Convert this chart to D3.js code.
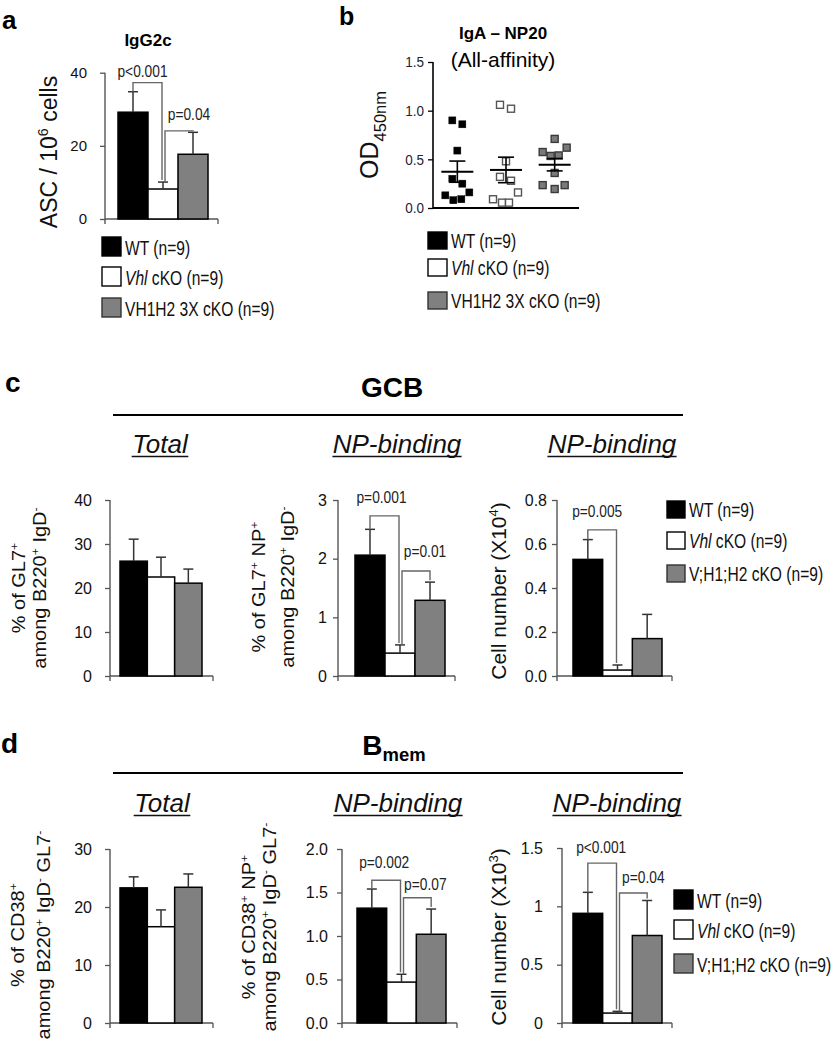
<!DOCTYPE html>
<html><head><meta charset="utf-8">
<script src="https://cdn.jsdelivr.net/npm/d3@7"></script>
<style>html,body{margin:0;padding:0;background:#fff}</style>
</head><body><svg id="fig" width="835" height="1050"></svg>
<script>
// ================= DATA =================
const groupsAB = ["WT", "Vhl cKO", "VH1H2 3X cKO"];
const groupsCD = ["WT", "Vhl cKO", "V;H1;H2 cKO"];
const groupN = [9, 9, 9];

// a: IgG2c ASC / 10^6 cells
const ascMean = [29.2, 8.2, 17.7];
const ascSem  = [5.6, 1.9, 6.0];
const ascTicks = [0, 20, 40];
const ascPairs = [[0, 1], [1, 2]];
const ascPLabels = ["p<0.001", "p=0.04"];
const ascPLevels = [37.3, 24.1];

// b: IgA - NP20 OD450nm, individual mice
const igaWT  = [0.90, 0.86, 0.59, 0.30, 0.25, 0.13, 0.08, 0.09, 0.16];
const igaVhl = [1.06, 1.02, 0.48, 0.32, 0.28, 0.16, 0.09, 0.055, 0.055];
const igaTKO = [0.71, 0.62, 0.575, 0.535, 0.54, 0.36, 0.235, 0.195, 0.235];
const igaTicks = [0, 0.5, 1.0, 1.5];

// c: GCB
const gcbTotalMean = [26.1, 22.5, 21.1];
const gcbTotalSem  = [5.0, 4.5, 3.2];
const gcbTotalTicks = [0, 10, 20, 30, 40];

const gcbNpPctMean = [2.06, 0.39, 1.29];
const gcbNpPctSem  = [0.44, 0.14, 0.31];
const gcbNpPctTicks = [0, 1, 2, 3];
const gcbNpPctPairs = [[0, 1], [1, 2]];
const gcbNpPctPLabels = ["p=0.001", "p=0.01"];
const gcbNpPctPLevels = [2.73, 1.79];

const gcbNpCellMean = [0.53, 0.027, 0.17];
const gcbNpCellSem  = [0.09, 0.023, 0.11];
const gcbNpCellTicks = [0, 0.2, 0.4, 0.6, 0.8];
const gcbNpCellPairs = [[0, 1]];
const gcbNpCellPLabels = ["p=0.005"];
const gcbNpCellPLevels = [0.664];

// d: Bmem
const bmTotalMean = [23.3, 16.6, 23.4];
const bmTotalSem  = [1.9, 2.9, 2.3];
const bmTotalTicks = [0, 10, 20, 30];

const bmNpPctMean = [1.32, 0.47, 1.02];
const bmNpPctSem  = [0.22, 0.09, 0.29];
const bmNpPctTicks = [0, 0.5, 1.0, 1.5, 2.0];
const bmNpPctPairs = [[0, 1], [1, 2]];
const bmNpPctPLabels = ["p=0.002", "p=0.07"];
const bmNpPctPLevels = [1.64, 1.44];

const bmNpCellMean = [0.94, 0.085, 0.75];
const bmNpCellSem  = [0.18, 0.015, 0.30];
const bmNpCellTicks = [0, 0.5, 1, 1.5];
const bmNpCellPairs = [[0, 1], [1, 2]];
const bmNpCellPLabels = ["p<0.001", "p=0.04"];
const bmNpCellPLevels = [1.37, 1.114];

// ================= STYLE / LAYOUT =================
const FONT = "'Liberation Sans', Arial, Helvetica, sans-serif";
const barFill = ["#000000", "#ffffff", "#808080"];
const ptFill = ["#000000", "#ffffff", "#7a7a7a"];
const ptStroke = ["#000000", "#555555", "#3a3a3a"];
const AXIS = "#555";
// jitter of scatter points (pixels from group centre)
const igaJitter = [
  [-5, 5, 0, -5, 5, -12, -4, 4, 12],
  [-6, 5, 0, -6, 5, 12, -13, -4, 3],
  [0, 12, -12, -4, 4, 0, -12, 0, 10]
];

const svg = d3.select("#fig");
svg.append("rect").attr("width", 835).attr("height", 1050).attr("fill", "#fff");

function addText(parent, o) {
  let tr = `translate(${o.x},${o.y})`;
  if (o.rot) tr += ` rotate(${o.rot})`;
  if (o.sx || o.sy) tr += ` scale(${o.sx || 1},${o.sy || 1})`;
  const t = parent.append("text").attr("transform", tr)
    .attr("font-family", FONT).attr("font-size", o.size)
    .attr("text-anchor", o.anchor || "start").attr("fill", o.fill || "#000");
  if (o.weight) t.attr("font-weight", o.weight);
  if (o.italic) t.attr("font-style", "italic");
  const parts = typeof o.text === "string" ? [{t: o.text}] : o.text;
  let shift = 0;
  parts.forEach(p => {
    const ts = t.append("tspan").text(p.t);
    const target = p.sup ? -o.size * 0.4 : p.sub ? o.size * (p.subShift || 0.3) : 0;
    if (target !== shift) ts.attr("dy", target - shift);
    shift = target;
    if (p.sup || p.sub) ts.attr("font-size", o.size * (p.scale || 0.62));
    if (p.i) ts.attr("font-style", "italic");
  });
  return t;
}

function legend(L, names) {
  const g = svg.append("g");
  names.forEach((nm, i) => {
    g.append("rect").attr("x", L.x).attr("y", L.rows[i]).attr("width", L.w).attr("height", L.h)
      .attr("fill", barFill[i]).attr("stroke", i === 2 ? "#333" : "#000").attr("stroke-width", 1.4);
    const lab = `${nm} (n=${groupN[i]})`;
    const parts = lab.startsWith("Vhl") ? [{t: "Vhl", i: true}, {t: lab.slice(3)}] : [{t: lab}];
    addText(g, {x: L.x + L.w + 4, y: L.rows[i] + L.h - 1.5, text: parts, size: 20, sx: 0.78, fill: "#111"});
  });
}

function barPanel(c) {
  const L = c.L;
  const g = svg.append("g");
  const y = d3.scaleLinear().domain(c.domain).range([L.bottom, L.top]);
  const x = d3.scaleBand().domain(d3.range(c.mean.length)).range([L.barL, L.barR]).padding(0);
  const bw = x.bandwidth();

  // y axis ticks + labels via d3 axis
  const ax = g.append("g").attr("transform", `translate(${L.axisX},0)`)
    .call(d3.axisLeft(y).tickValues(c.ticks).tickFormat(c.fmt).tickSize(5).tickPadding(L.pad));
  ax.select(".domain").remove();
  ax.selectAll(".tick line").attr("stroke", AXIS).attr("stroke-width", 1.3);
  ax.selectAll(".tick text").attr("font-family", FONT).attr("font-size", L.tick)
    .attr("fill", "#111").attr("transform", `scale(${L.tsx},1)`).attr("x", -(5 + L.pad) / L.tsx);
  // axis lines
  g.append("line").attr("x1", L.axisX).attr("x2", L.axisX).attr("y1", y(c.domain[1])).attr("y2", L.bottom + 5)
    .attr("stroke", AXIS).attr("stroke-width", 1.4);
  g.append("line").attr("x1", L.axisX).attr("x2", L.xEnd).attr("y1", L.bottom).attr("y2", L.bottom)
    .attr("stroke", AXIS).attr("stroke-width", 1.4);
  g.append("line").attr("x1", L.xEnd).attr("x2", L.xEnd).attr("y1", L.bottom).attr("y2", L.bottom + 5)
    .attr("stroke", AXIS).attr("stroke-width", 1.3);

  // bars
  c.mean.forEach((m, i) => {
    g.append("rect").attr("x", x(i)).attr("y", y(m)).attr("width", bw).attr("height", L.bottom - y(m))
      .attr("fill", barFill[i]).attr("stroke", "#000").attr("stroke-width", 1.5);
  });
  // error bars (upper)
  c.mean.forEach((m, i) => {
    const cx = x(i) + bw / 2, yt = y(m + c.sem[i]);
    g.append("line").attr("x1", cx).attr("x2", cx).attr("y1", y(m)).attr("y2", yt)
      .attr("stroke", "#333").attr("stroke-width", 1.5);
    g.append("line").attr("x1", cx - 5).attr("x2", cx + 5).attr("y1", yt).attr("y2", yt)
      .attr("stroke", "#333").attr("stroke-width", 1.5);
  });
  // significance brackets
  (c.pairs || []).forEach((pr, k) => {
    const B = L.brk[k];
    const [a, b] = pr;
    const xa = x(a) + bw / 2 + B.dxL, xb = x(b) + bw / 2 + B.dxR;
    const yl = y(c.pLevels[k]);
    const ya = y(c.mean[a] + c.sem[a]), yb = y(c.mean[b] + c.sem[b]) - 2;
    g.append("path").attr("d", `M${xa},${ya}V${yl}H${xb}V${yb}`)
      .attr("fill", "none").attr("stroke", "#666").attr("stroke-width", 1.4);
    addText(g, {x: (xa + xb) / 2 + B.tdx, y: yl - B.tdy, text: c.pLabels[k], size: 16, sx: 0.86,
      anchor: "middle", fill: "#222"});
  });
  // y label
  c.ylab.forEach(l => addText(g, {x: l.x, y: L.labY, rot: -90, text: l.parts, size: l.size || 20,
    sy: l.sy || 1, anchor: "middle", fill: "#111"}));
}

// ---------- panel letters ----------
addText(svg, {x: 2, y: 29, text: "a", size: 26, weight: "bold"});
addText(svg, {x: 339, y: 25, text: "b", size: 25, weight: "bold"});
addText(svg, {x: 5, y: 392, text: "c", size: 28, weight: "bold"});
addText(svg, {x: 1, y: 753, text: "d", size: 28, weight: "bold"});

// ---------- panel a ----------
addText(svg, {x: 148, y: 46, text: "IgG2c", size: 17, weight: "bold", anchor: "middle"});
barPanel({
  mean: ascMean, sem: ascSem, domain: [0, 40], ticks: ascTicks, fmt: d3.format("d"),
  pairs: ascPairs, pLabels: ascPLabels, pLevels: ascPLevels,
  L: {axisX: 105, top: 72.7, bottom: 219, barL: 118, barR: 208, xEnd: 218, pad: 13, tick: 15, tsx: 1,
      labY: 152, brk: [{dxL: 0, dxR: -1, tdx: -5, tdy: 6}, {dxL: 2, dxR: 0, tdx: 10, tdy: 11}]},
  ylab: [{x: 57, size: 23, parts: [{t: "ASC / 10"}, {t: "6", sup: true}, {t: " cells"}]}]
});
legend({x: 102, rows: [237, 267, 298], w: 19, h: 19}, groupsAB);

// ---------- panel b ----------
(function () {
  const g = svg.append("g");
  const top = 62, bottom = 208, axisX = 433;
  const y = d3.scaleLinear().domain([0, 1.5]).range([bottom, top]);
  const x = d3.scaleBand().domain(d3.range(3)).range([433, 579]);
  const series = [igaWT, igaVhl, igaTKO];
  addText(g, {x: 503, y: 39, text: "IgA – NP20", size: 17, weight: "bold", anchor: "middle"});
  addText(g, {x: 503, y: 67, text: "(All-affinity)", size: 21, anchor: "middle"});
  const ax = g.append("g").attr("transform", `translate(${axisX},0)`)
    .call(d3.axisLeft(y).tickValues(igaTicks).tickFormat(d3.format(".1f")).tickSize(5).tickPadding(4));
  ax.select(".domain").remove();
  ax.selectAll(".tick line").attr("stroke", "#000").attr("stroke-width", 1.3);
  ax.selectAll(".tick text").attr("font-family", FONT).attr("font-size", 15).attr("fill", "#223")
    .attr("transform", "scale(0.9,1)").attr("x", -9 / 0.9);
  g.append("line").attr("x1", axisX).attr("x2", axisX).attr("y1", top).attr("y2", bottom)
    .attr("stroke", "#000").attr("stroke-width", 1.6);
  g.append("line").attr("x1", axisX).attr("x2", 579).attr("y1", bottom).attr("y2", bottom)
    .attr("stroke", "#000").attr("stroke-width", 2);
  series.forEach((vals, gi) => {
    const cx = x(gi) + x.bandwidth() / 2;
    vals.forEach((v, j) => {
      g.append("rect").attr("x", cx + igaJitter[gi][j] - 3.5).attr("y", y(v) - 3.5)
        .attr("width", 7).attr("height", 7)
        .attr("fill", ptFill[gi]).attr("stroke", ptStroke[gi]).attr("stroke-width", gi === 0 ? 0.5 : 1.4);
    });
    const m = d3.mean(vals), se = d3.deviation(vals) / Math.sqrt(vals.length);
    g.append("line").attr("x1", cx - 16).attr("x2", cx + 16).attr("y1", y(m)).attr("y2", y(m))
      .attr("stroke", "#000").attr("stroke-width", 2);
    g.append("line").attr("x1", cx).attr("x2", cx).attr("y1", y(m - se)).attr("y2", y(m + se))
      .attr("stroke", "#000").attr("stroke-width", 1.6);
    [m - se, m + se].forEach(vv => g.append("line").attr("x1", cx - 8).attr("x2", cx + 8)
      .attr("y1", y(vv)).attr("y2", y(vv)).attr("stroke", "#000").attr("stroke-width", 1.6));
  });
  addText(g, {x: 378, y: 135, rot: -90, anchor: "middle", size: 25, fill: "#111",
    text: [{t: "OD"}, {t: "450nm", sub: true, scale: 0.66, subShift: 0.3}]});
})();
legend({x: 428, rows: [232, 259, 292], w: 19, h: 17}, groupsAB);

// ---------- section headers ----------
function header(cx, yb, lineY, parts) {
  addText(svg, {x: cx, y: yb, text: parts, size: 28, weight: "bold", anchor: "middle"});
  svg.append("line").attr("x1", 113).attr("x2", 683).attr("y1", lineY).attr("y2", lineY)
    .attr("stroke", "#000").attr("stroke-width", 2.2);
}
function subhead(cx, yb, str) {
  const t = addText(svg, {x: cx, y: yb, text: str, size: 26, italic: true, anchor: "middle", fill: "#111"});
  const bb = t.node().getBBox();
  svg.append("line").attr("x1", cx - bb.width / 2).attr("x2", cx + bb.width / 2)
    .attr("y1", yb + 3.5).attr("y2", yb + 3.5).attr("stroke", "#111").attr("stroke-width", 1.4);
}
header(392, 397, 415, [{t: "GCB"}]);
subhead(160, 453, "Total");
subhead(397, 453, "NP-binding");
subhead(612, 453, "NP-binding");

header(394, 755, 773, [{t: "B"}, {t: "mem", sub: true, scale: 0.66, subShift: 0.22}]);
subhead(162, 812, "Total");
subhead(398, 812, "NP-binding");
subhead(617, 812, "NP-binding");

// ---------- panel c ----------
barPanel({
  mean: gcbTotalMean, sem: gcbTotalSem, domain: [0, 40], ticks: gcbTotalTicks, fmt: d3.format("d"),
  L: {axisX: 110, top: 500, bottom: 676, barL: 120, barR: 202, xEnd: 213, pad: 13, tick: 16, tsx: 1, labY: 588},
  ylab: [
    {x: 25, sy: 0.88, parts: [{t: "% of GL7"}, {t: "+", sup: true}]},
    {x: 46, sy: 0.88, parts: [{t: "among B220"}, {t: "+", sup: true}, {t: " IgD"}, {t: "-", sup: true}]}
  ]
});
barPanel({
  mean: gcbNpPctMean, sem: gcbNpPctSem, domain: [0, 3], ticks: gcbNpPctTicks, fmt: d3.format("d"),
  pairs: gcbNpPctPairs, pLabels: gcbNpPctPLabels, pLevels: gcbNpPctPLevels,
  L: {axisX: 338, top: 500, bottom: 676, barL: 355, barR: 445, xEnd: 455, pad: 6, tick: 16, tsx: 1, labY: 587,
      brk: [{dxL: 0, dxR: -1, tdx: -3, tdy: 13}, {dxL: 2, dxR: 0, tdx: 9, tdy: 14}]},
  ylab: [
    {x: 265, sy: 0.88, parts: [{t: "% of GL7"}, {t: "+", sup: true}, {t: " NP"}, {t: "+", sup: true}]},
    {x: 294, sy: 0.88, parts: [{t: "among B220"}, {t: "+", sup: true}, {t: " IgD"}, {t: "-", sup: true}]}
  ]
});
barPanel({
  mean: gcbNpCellMean, sem: gcbNpCellSem, domain: [0, 0.8], ticks: gcbNpCellTicks, fmt: d3.format(".1f"),
  pairs: gcbNpCellPairs, pLabels: gcbNpCellPLabels, pLevels: gcbNpCellPLevels,
  L: {axisX: 557, top: 500, bottom: 676, barL: 573, barR: 662, xEnd: 672, pad: 5, tick: 16, tsx: 1, labY: 591,
      brk: [{dxL: 0, dxR: -1, tdx: -5, tdy: 13}]},
  ylab: [{x: 506, size: 21, sy: 0.92, parts: [{t: "Cell number (X10"}, {t: "4", sup: true}, {t: ")"}]}]
});
legend({x: 667, rows: [501, 532, 565], w: 18, h: 17}, groupsCD);

// ---------- panel d ----------
barPanel({
  mean: bmTotalMean, sem: bmTotalSem, domain: [0, 30], ticks: bmTotalTicks, fmt: d3.format("d"),
  L: {axisX: 110, top: 849, bottom: 1023, barL: 120, barR: 202, xEnd: 213, pad: 13, tick: 16, tsx: 1, labY: 935},
  ylab: [
    {x: 24, sy: 0.88, parts: [{t: "% of CD38"}, {t: "+", sup: true}]},
    {x: 50, sy: 0.88, parts: [{t: "among B220"}, {t: "+", sup: true}, {t: " IgD"}, {t: "-", sup: true},
      {t: " GL7"}, {t: "-", sup: true}]}
  ]
});
barPanel({
  mean: bmNpPctMean, sem: bmNpPctSem, domain: [0, 2], ticks: bmNpPctTicks, fmt: d3.format(".1f"),
  pairs: bmNpPctPairs, pLabels: bmNpPctPLabels, pLevels: bmNpPctPLevels,
  L: {axisX: 342, top: 849, bottom: 1023, barL: 357, barR: 446, xEnd: 457, pad: 9, tick: 16, tsx: 1, labY: 927,
      brk: [{dxL: 0, dxR: -1, tdx: -2, tdy: 12}, {dxL: 2, dxR: 0, tdx: 8, tdy: 8}]},
  ylab: [
    {x: 255, sy: 0.88, parts: [{t: "% of CD38"}, {t: "+", sup: true}, {t: " NP"}, {t: "+", sup: true}]},
    {x: 276, sy: 0.88, parts: [{t: "among B220"}, {t: "+", sup: true}, {t: " IgD"}, {t: "-", sup: true},
      {t: " GL7"}, {t: "-", sup: true}]}
  ]
});
barPanel({
  mean: bmNpCellMean, sem: bmNpCellSem, domain: [0, 1.5], ticks: bmNpCellTicks, fmt: d3.format("~g"),
  pairs: bmNpCellPairs, pLabels: bmNpCellPLabels, pLevels: bmNpCellPLevels,
  L: {axisX: 562, top: 848, bottom: 1023, barL: 573, barR: 662, xEnd: 672, pad: 14, tick: 16, tsx: 1, labY: 937,
      brk: [{dxL: 0, dxR: -1, tdx: -1, tdy: 10}, {dxL: 2, dxR: 0, tdx: 10, tdy: 10}]},
  ylab: [{x: 506, size: 21, sy: 0.92, parts: [{t: "Cell number (X10"}, {t: "3", sup: true}, {t: ")"}]}]
});
legend({x: 674, rows: [890, 920, 954], w: 19, h: 19}, groupsCD);
</script></body></html>
